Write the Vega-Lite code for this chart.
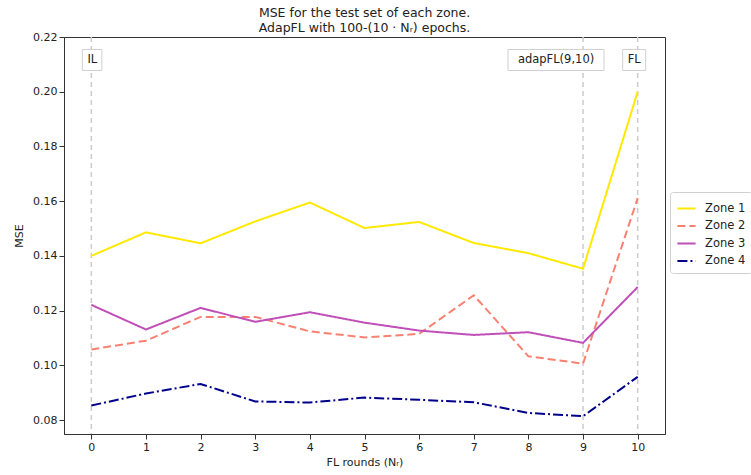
{
  "$schema": "https://vega.github.io/schema/vega-lite/v6.json",
  "width": 601,
  "height": 397,
  "autosize": {"type": "none"},
  "padding": {"left": 64, "top": 37, "right": 86, "bottom": 41},
  "background": "white",
  "config": {
    "font": "DejaVu Sans",
    "view": {"stroke": "#333", "strokeWidth": 1},
    "axis": {"grid": false, "domainColor": "#333", "tickColor": "#333", "tickSize": 5, "labelColor": "#222", "labelFontSize": 11, "titleFontSize": 11, "titleFontWeight": "normal", "titleColor": "#222"}
  },
  "title": {
    "text": ["MSE for the test set of each zone.", "AdapFL with 100-(10 · Nᵣ) epochs."],
    "fontSize": 12.5,
    "fontWeight": "normal",
    "color": "#222",
    "anchor": "middle",
    "lineHeight": 15,
    "offset": -3
  },
  "datasets": {
    "mse": [
      {"round": 0, "zone": "Zone 1", "mse": 0.1400},
      {"round": 1, "zone": "Zone 1", "mse": 0.1486},
      {"round": 2, "zone": "Zone 1", "mse": 0.1446},
      {"round": 3, "zone": "Zone 1", "mse": 0.1526},
      {"round": 4, "zone": "Zone 1", "mse": 0.1595},
      {"round": 5, "zone": "Zone 1", "mse": 0.1502},
      {"round": 6, "zone": "Zone 1", "mse": 0.1524},
      {"round": 7, "zone": "Zone 1", "mse": 0.1447},
      {"round": 8, "zone": "Zone 1", "mse": 0.1410},
      {"round": 9, "zone": "Zone 1", "mse": 0.1353},
      {"round": 10, "zone": "Zone 1", "mse": 0.2000},
      {"round": 0, "zone": "Zone 2", "mse": 0.1058},
      {"round": 1, "zone": "Zone 2", "mse": 0.1090},
      {"round": 2, "zone": "Zone 2", "mse": 0.1177},
      {"round": 3, "zone": "Zone 2", "mse": 0.1177},
      {"round": 4, "zone": "Zone 2", "mse": 0.1124},
      {"round": 5, "zone": "Zone 2", "mse": 0.1102},
      {"round": 6, "zone": "Zone 2", "mse": 0.1115},
      {"round": 7, "zone": "Zone 2", "mse": 0.1256},
      {"round": 8, "zone": "Zone 2", "mse": 0.1033},
      {"round": 9, "zone": "Zone 2", "mse": 0.1006},
      {"round": 10, "zone": "Zone 2", "mse": 0.1611},
      {"round": 0, "zone": "Zone 3", "mse": 0.1221},
      {"round": 1, "zone": "Zone 3", "mse": 0.1131},
      {"round": 2, "zone": "Zone 3", "mse": 0.1210},
      {"round": 3, "zone": "Zone 3", "mse": 0.1159},
      {"round": 4, "zone": "Zone 3", "mse": 0.1194},
      {"round": 5, "zone": "Zone 3", "mse": 0.1156},
      {"round": 6, "zone": "Zone 3", "mse": 0.1127},
      {"round": 7, "zone": "Zone 3", "mse": 0.1111},
      {"round": 8, "zone": "Zone 3", "mse": 0.1121},
      {"round": 9, "zone": "Zone 3", "mse": 0.1082},
      {"round": 10, "zone": "Zone 3", "mse": 0.1286},
      {"round": 0, "zone": "Zone 4", "mse": 0.0853},
      {"round": 1, "zone": "Zone 4", "mse": 0.0897},
      {"round": 2, "zone": "Zone 4", "mse": 0.0932},
      {"round": 3, "zone": "Zone 4", "mse": 0.0868},
      {"round": 4, "zone": "Zone 4", "mse": 0.0864},
      {"round": 5, "zone": "Zone 4", "mse": 0.0882},
      {"round": 6, "zone": "Zone 4", "mse": 0.0874},
      {"round": 7, "zone": "Zone 4", "mse": 0.0865},
      {"round": 8, "zone": "Zone 4", "mse": 0.0826},
      {"round": 9, "zone": "Zone 4", "mse": 0.0814},
      {"round": 10, "zone": "Zone 4", "mse": 0.0958}
    ],
    "marks": [
      {"round": 0, "label": "IL"},
      {"round": 9, "label": "adapFL(9,10)"},
      {"round": 10, "label": "FL"}
    ]
  },
  "layer": [
    {
      "data": {"name": "marks"},
      "mark": {"type": "rule", "color": "#cccccc", "strokeWidth": 1.5, "strokeDash": [5, 4]},
      "encoding": {
        "x": {"field": "round", "type": "quantitative", "scale": {"domain": [-0.5, 10.5], "nice": false}}
      }
    },
    {
      "data": {"name": "mse"},
      "mark": {"type": "line", "strokeWidth": 2},
      "encoding": {
        "x": {"field": "round", "type": "quantitative", "scale": {"domain": [-0.5, 10.5], "nice": false},
              "axis": {"values": [0,1,2,3,4,5,6,7,8,9,10], "format": "d", "title": "FL rounds (Nᵣ)", "titlePadding": 4}},
        "y": {"field": "mse", "type": "quantitative", "scale": {"domain": [0.0749, 0.22], "nice": false, "zero": false},
              "axis": {"values": [0.08,0.10,0.12,0.14,0.16,0.18,0.20,0.22], "format": ".2f", "title": "MSE", "titlePadding": 8}},
        "color": {"field": "zone", "type": "nominal",
                  "scale": {"domain": ["Zone 1","Zone 2","Zone 3","Zone 4"], "range": ["#FFE900","#FA8072","#C04FB8","#00008B"]},
                  "legend": {"title": null, "orient": "none", "legendX": 606, "legendY": 155, "symbolType": "stroke", "symbolSize": 330, "symbolStrokeWidth": 2, "labelFontSize": 11.5, "labelColor": "#222", "rowPadding": 1.5, "padding": 6, "strokeColor": "#d0d0d0", "fillColor": "white", "cornerRadius": 3, "labelOffset": 8}},
        "strokeDash": {"field": "zone", "type": "nominal",
                       "scale": {"domain": ["Zone 1","Zone 2","Zone 3","Zone 4"], "range": [[1,0],[8,4],[1,0],[10,3,2,3]]},
                       "legend": {"title": null}}
      }
    },
    {
      "data": {"name": "marks"},
      "transform": [{"filter": "datum.label == 'IL'"}],
      "layer": [
        {"mark": {"type": "rect", "fill": "white", "stroke": "#d0d0d0", "strokeWidth": 1, "xOffset": -9, "x2Offset": 10.5, "yOffset": -10.5, "y2Offset": 10.5},
         "encoding": {"x": {"field": "round", "type": "quantitative"}, "x2": {"field": "round"}, "y": {"datum": 0.2116}, "y2": {"datum": 0.2116}}},
        {"mark": {"type": "text", "fontSize": 11.5, "color": "#222", "baseline": "middle", "align": "center", "dx": 1},
         "encoding": {"x": {"field": "round", "type": "quantitative"}, "y": {"datum": 0.2116}, "text": {"field": "label"}}}
      ]
    },
    {
      "data": {"name": "marks"},
      "transform": [{"filter": "datum.label == 'adapFL(9,10)'"}],
      "layer": [
        {"mark": {"type": "rect", "fill": "white", "stroke": "#d0d0d0", "strokeWidth": 1, "xOffset": -75, "x2Offset": 21, "yOffset": -10.5, "y2Offset": 10.5},
         "encoding": {"x": {"field": "round", "type": "quantitative"}, "x2": {"field": "round"}, "y": {"datum": 0.2116}, "y2": {"datum": 0.2116}}},
        {"mark": {"type": "text", "fontSize": 11.5, "color": "#222", "baseline": "middle", "align": "center", "dx": -27},
         "encoding": {"x": {"field": "round", "type": "quantitative"}, "y": {"datum": 0.2116}, "text": {"field": "label"}}}
      ]
    },
    {
      "data": {"name": "marks"},
      "transform": [{"filter": "datum.label == 'FL'"}],
      "layer": [
        {"mark": {"type": "rect", "fill": "white", "stroke": "#d0d0d0", "strokeWidth": 1, "xOffset": -15, "x2Offset": 8, "yOffset": -10.5, "y2Offset": 10.5},
         "encoding": {"x": {"field": "round", "type": "quantitative"}, "x2": {"field": "round"}, "y": {"datum": 0.2116}, "y2": {"datum": 0.2116}}},
        {"mark": {"type": "text", "fontSize": 11.5, "color": "#222", "baseline": "middle", "align": "center", "dx": -3.5},
         "encoding": {"x": {"field": "round", "type": "quantitative"}, "y": {"datum": 0.2116}, "text": {"field": "label"}}}
      ]
    }
  ]
}
